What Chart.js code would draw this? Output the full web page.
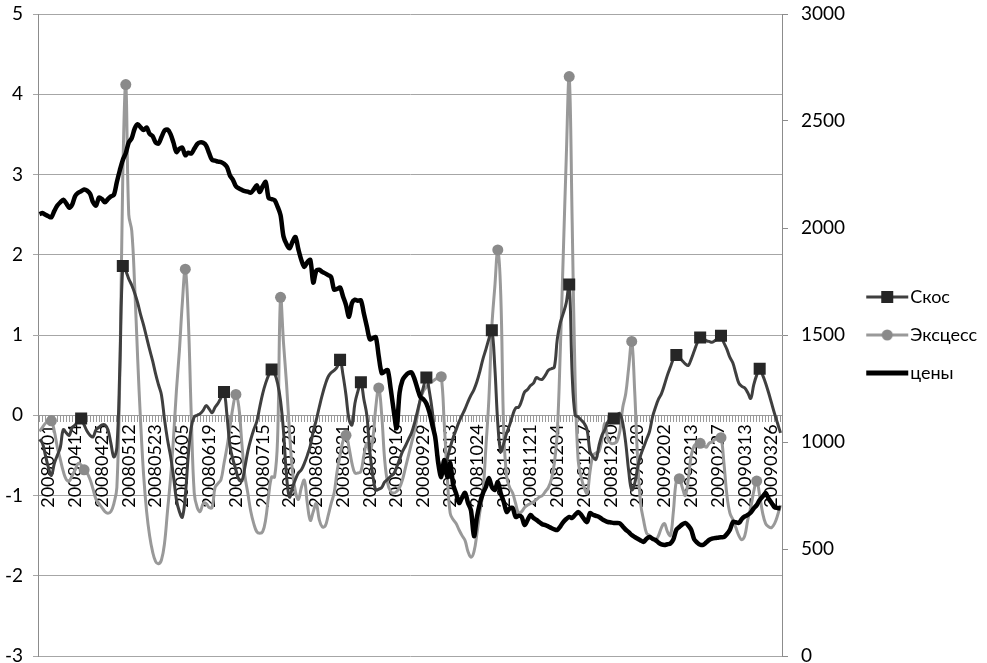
<!DOCTYPE html>
<html>
<head>
<meta charset="utf-8">
<script src="https://cdn.jsdelivr.net/npm/chart.js@4"></script>
<style>
html, body { margin: 0; padding: 0; background: #fff; }
</style>
</head>
<body>
<canvas id="chart" width="987" height="663"></canvas>
<script>
// подписи оси дат (каждая 9-я торговая сессия)
const tickDates = ['20080401', '20080414', '20080425', '20080512', '20080523', '20080605', '20080619',
    '20080702', '20080715', '20080728', '20080808', '20080821', '20080903', '20080916', '20080929',
    '20081013', '20081024', '20081110', '20081121', '20081204', '20081217', '20081230', '20090120',
    '20090202', '20090213', '20090227', '20090313', '20090326'];

// Скос
const skew = [
    -0.3, -0.35, -0.5, -0.65, -0.75, -0.6, -0.5, -0.4, -0.18, -0.22,
    -0.25, -0.15, -0.12, -0.06, -0.04, -0.12, -0.2, -0.25, -0.27, -0.18,
    -0.15, -0.12, -0.12, -0.18, -0.35, -0.52, -0.4, 0.6, 1.86, 1.8,
    1.7, 1.62, 1.52, 1.4, 1.25, 1.12, 0.97, 0.82, 0.68, 0.52,
    0.38, 0.25, -0.05, -0.3, -0.5, -0.75, -1.05, -1.2, -1.27, -1.0,
    -0.5, -0.15, -0.02, 0.0, 0.02, 0.06, 0.12, 0.08, 0.03, 0.1,
    0.15, 0.22, 0.29, 0.0, -0.38, -0.55, -0.68, -0.8, -0.82, -0.65,
    -0.45, -0.3, -0.18, -0.08, 0.1, 0.27, 0.4, 0.5, 0.57, 0.52,
    0.4, 0.18, -0.2, -0.75, -1.02, -0.9, -0.8, -0.72, -0.68, -0.6,
    -0.5, -0.38, -0.2, -0.06, 0.1, 0.25, 0.38, 0.48, 0.53, 0.56,
    0.6, 0.69, 0.5, 0.25, -0.05, -0.12, 0.15, 0.3, 0.41, 0.2,
    0.0, -0.45, -0.75, -0.93, -0.92, -0.9, -0.83, -0.8, -0.76, -0.73,
    -0.65, -0.55, -0.45, -0.38, -0.3, -0.22, -0.1, 0.05, 0.2, 0.35,
    0.47, 0.3, 0.05, -0.3, -0.55, -0.68, -0.7, -0.55, -0.4, -0.28,
    -0.18, -0.08, 0.0, 0.08, 0.17, 0.25, 0.32, 0.42, 0.55, 0.7,
    0.82, 0.95, 1.06, 0.6, -0.1, -0.45, -0.35, -0.22, -0.12, 0.0,
    0.09, 0.1, 0.18, 0.29, 0.32, 0.37, 0.4, 0.47, 0.45, 0.45,
    0.5, 0.56, 0.58, 0.6, 0.95, 1.15, 1.27, 1.4, 1.63, 0.5,
    0.0, -0.02, -0.06, -0.1, -0.18, -0.45, -0.52, -0.55, -0.38, -0.25,
    -0.18, -0.08, -0.05, -0.04, 0.0, 0.02, -0.1, -0.35, -0.7, -0.93,
    -0.85, -0.65, -0.5, -0.4, -0.3, -0.2, -0.02, 0.1, 0.2, 0.27,
    0.38, 0.5, 0.6, 0.7, 0.75, 0.72, 0.68, 0.64, 0.62, 0.7,
    0.8, 0.9, 0.97, 0.96, 0.93, 0.92, 0.91, 0.93, 0.96, 0.99,
    0.9, 0.82, 0.72, 0.65, 0.52, 0.4, 0.36, 0.34, 0.28, 0.21,
    0.38, 0.5, 0.58, 0.5, 0.4, 0.28, 0.15, 0.02, -0.1, -0.22
];

// Эксцесс
const kurt = [
    -0.2, -0.15, -0.1, -0.08, -0.07, -0.2, -0.4, -0.55, -0.7, -0.8,
    -0.82, -0.75, -0.68, -0.6, -0.62, -0.68, -0.72, -0.8, -0.92, -1.05,
    -1.1, -1.15, -1.2, -1.22, -1.2, -1.1, -0.9, 0.5, 3.0, 4.12,
    2.5, 2.3, 1.6, 0.7, -0.1, -0.75, -1.2, -1.5, -1.7, -1.82,
    -1.85, -1.8, -1.6, -1.2, -0.8, -0.3, 0.3, 0.8, 1.4, 1.82,
    1.2, 0.0, -0.97, -1.15, -1.2, -1.1, -1.1, -1.15, -1.15, -0.9,
    -0.85, -0.8, -0.6, -0.4, -0.15, 0.1, 0.26, 0.1, -0.35, -0.75,
    -0.97, -1.2, -1.35, -1.45, -1.47, -1.45, -1.3, -1.0, -0.77, -0.77,
    -0.3, 1.47, 0.9, 0.4, -0.2, -0.7, -0.95, -1.05, -0.9, -0.81,
    -1.1, -1.31, -1.2, -1.1, -1.3, -1.39, -1.38, -1.25, -1.1, -0.97,
    -0.7, -0.5, -0.32, -0.25, -0.4, -0.6, -0.72, -0.72, -0.7, -0.5,
    -0.35, -0.45, -0.3, 0.1, 0.34, 0.0, -0.56, -0.85, -0.95, -0.97,
    -0.95, -0.9, -0.8, -0.65, -0.5, -0.35, -0.2, 0.0, 0.2, 0.3,
    0.35, 0.4, 0.42, 0.45, 0.47, 0.48, -0.1, -0.75, -1.22, -1.3,
    -1.35, -1.43, -1.5, -1.56, -1.7, -1.77, -1.7, -1.47, -1.2, -0.97,
    -0.4, 0.2, 1.1, 1.6, 2.06, 1.5, -0.2, -0.77, -0.9, -0.97,
    -1.1, -1.22, -1.2, -1.15, -1.12, -1.1, -1.08, -1.05, -1.02, -1.0,
    -0.95, -0.9, -0.8, -0.6, -0.2, 0.8, 2.0, 3.2, 4.22, 2.4,
    0.4, -0.56, -0.77, -0.9, -0.97, -0.7, -0.5, -0.47, -0.45, -0.3,
    -0.1, -0.3, -0.35, -0.35, -0.33, -0.2, 0.1, 0.27, 0.6, 0.92,
    0.3, -0.56, -1.1, -1.31, -1.47, -1.5, -1.55, -1.56, -1.5, -1.4,
    -1.35, -1.45, -1.5, -1.2, -0.82, -0.79, -0.9, -1.0, -0.8, -0.5,
    -0.38, -0.36, -0.35, -0.36, -0.4, -0.35, -0.33, -0.3, -0.29, -0.28,
    -0.6, -1.0, -1.22, -1.3, -1.4, -1.5, -1.55, -1.5, -1.3, -1.15,
    -0.95, -0.82, -1.0, -1.22, -1.35, -1.39, -1.4, -1.35, -1.25, -1.12
];

// цены (правая ось)
const prices = [
    2065, 2070, 2062, 2055, 2050, 2080, 2105, 2120, 2132, 2115,
    2095, 2110, 2150, 2165, 2172, 2180, 2175, 2160, 2120, 2105,
    2142, 2135, 2120, 2135, 2148, 2155, 2215, 2270, 2318, 2350,
    2400, 2420, 2465, 2485, 2470, 2458, 2470, 2440, 2430, 2400,
    2395, 2425, 2455, 2460, 2440, 2400, 2355, 2370, 2375, 2340,
    2352, 2348, 2370, 2392, 2400, 2398, 2385, 2350, 2318, 2315,
    2310, 2308, 2300, 2285, 2245, 2225, 2195, 2185, 2178, 2172,
    2170, 2165, 2180, 2200, 2168, 2195, 2215, 2140, 2135, 2130,
    2100, 2060, 1960, 1925, 1905, 1935, 1958, 1900, 1850, 1818,
    1840, 1851, 1745, 1800, 1805, 1795, 1788, 1780, 1770, 1712,
    1715, 1722, 1680, 1640, 1585, 1650, 1665, 1660, 1662, 1600,
    1540, 1480, 1485, 1490, 1400, 1322, 1330, 1336, 1250, 1150,
    1065, 1230, 1290, 1310, 1322, 1325, 1295, 1250, 1210, 1200,
    1180, 1140, 1080, 1020, 900, 836, 916, 836, 902, 800,
    760, 715, 740, 762, 715, 680, 560, 650, 715, 760,
    790, 832, 790, 776, 813, 760, 720, 673, 690, 692,
    650, 655, 650, 612, 635, 659, 645, 636, 625, 615,
    612, 605, 598, 592, 589, 605, 626, 640, 650, 645,
    660, 673, 660, 640, 626, 668, 660, 655, 650, 640,
    632, 626, 624, 622, 622, 620, 605, 590, 579, 565,
    556, 548, 540, 533, 548, 556, 548, 542, 530, 522,
    519, 522, 526, 545, 590, 603, 615, 622, 610, 589,
    545, 530, 520, 519, 530, 542, 548, 551, 553, 555,
    556, 570, 590, 626, 625, 622, 640, 652, 659, 670,
    690, 705, 729, 745, 762, 735, 715, 695, 692, 690
];

// точки с маркерами
const skewMarks = [14, 28, 62, 78, 101, 108, 130, 152, 178, 193, 214, 222, 229, 242];
const kurtMarks = [4, 15, 29, 49, 66, 81, 103, 114, 135, 154, 178, 199, 215, 222, 229, 241];

const categories = prices.map(() => '');
tickDates.forEach((d, k) => { categories[3 + 9 * k] = d; });

const FONT = 'Lato';

// значок легенды: линия + маркер
const makeIcon = (color, width, marker, markerColor) => {
    const c = document.createElement('canvas');
    c.width = 44;
    c.height = 14;
    const g = c.getContext('2d');
    g.strokeStyle = color;
    g.lineWidth = width;
    g.beginPath();
    g.moveTo(1, 7);
    g.lineTo(43, 7);
    g.stroke();
    g.fillStyle = markerColor;
    if (marker === 'rect') g.fillRect(16, 1, 12, 12);
    if (marker === 'circle') {
        g.beginPath();
        g.arc(22, 7, 5.5, 0, Math.PI * 2);
        g.fill();
    }
    return c;
};

const icons = [
    makeIcon('#3f3f3f', 3, 'rect', '#262626'),
    makeIcon('#999999', 3, 'circle', '#8a8a8a'),
    makeIcon('#000000', 5, null, null)
];

const ctx = document.getElementById('chart').getContext('2d');
new Chart(ctx, {
    type: 'line',
    data: {
        labels: categories,
        datasets: [{
            label: 'Скос',
            data: skew,
            yAxisID: 'y',
            order: 1,
            borderColor: '#3f3f3f',
            borderWidth: 3,
            tension: 0.4,
            pointStyle: 'rect',
            pointRadius: c => skewMarks.includes(c.dataIndex) ? 8.5 : 0,
            pointBackgroundColor: '#262626',
            pointBorderWidth: 0
        }, {
            label: 'Эксцесс',
            data: kurt,
            yAxisID: 'y',
            order: 2,
            borderColor: '#999999',
            borderWidth: 3,
            tension: 0.4,
            pointStyle: 'circle',
            pointRadius: c => kurtMarks.includes(c.dataIndex) ? 5.5 : 0,
            pointBackgroundColor: '#8a8a8a',
            pointBorderWidth: 0
        }, {
            label: 'цены',
            data: prices,
            yAxisID: 'y1',
            order: 0,
            borderColor: '#000000',
            borderWidth: 4.5,
            tension: 0.3,
            pointRadius: 0,
            borderJoinStyle: 'round'
        }]
    },
    options: {
        responsive: false,
        animation: false,
        devicePixelRatio: 1,
        layout: { padding: { top: 14, bottom: 7, left: 0, right: 0 } },
        scales: {
            x: {
                type: 'category',
                offset: true,
                position: { y: 0 },
                grid: { drawOnChartArea: false, tickLength: 6, color: '#9a9a9a' },
                border: { display: true, color: '#9a9a9a' },
                ticks: {
                    autoSkip: false,
                    maxRotation: 90,
                    minRotation: 90,
                    padding: 3,
                    color: '#000',
                    font: { family: FONT, size: 18 }
                }
            },
            y: {
                position: 'left',
                min: -3,
                max: 5,
                ticks: { stepSize: 1, padding: 10, color: '#000', font: { family: FONT, size: 19 } },
                grid: { color: '#a6a6a6', tickLength: 5 },
                border: { color: '#8c8c8c' },
                afterFit: s => { s.width = 38; s.paddingTop = 0; s.paddingBottom = 0; }
            },
            y1: {
                position: 'right',
                min: 0,
                max: 3000,
                ticks: {
                    stepSize: 500,
                    padding: 13,
                    color: '#000',
                    font: { family: FONT, size: 19 },
                    callback: v => String(v)
                },
                grid: { drawOnChartArea: false, tickLength: 6, color: '#8c8c8c' },
                border: { color: '#8c8c8c' },
                afterFit: s => {
                    const lw = (s.chart.legend && s.chart.legend.width) || 134;
                    s.width = 987 - 782 - lw;
                    s.paddingTop = 0;
                    s.paddingBottom = 0;
                }
            }
        },
        plugins: {
            tooltip: { enabled: false },
            legend: {
                position: 'right',
                maxWidth: 134,
                labels: {
                    usePointStyle: true,
                    pointStyleWidth: 28,
                    padding: 20,
                    color: '#000',
                    font: { family: FONT, size: 18 },
                    generateLabels: chart => chart.data.datasets.map((ds, i) => ({
                        text: ds.label,
                        pointStyle: icons[i],
                        fillStyle: ds.borderColor,
                        strokeStyle: ds.borderColor,
                        lineWidth: 0,
                        hidden: false,
                        datasetIndex: i
                    }))
                }
            }
        }
    }
});
</script>
</body>
</html>
